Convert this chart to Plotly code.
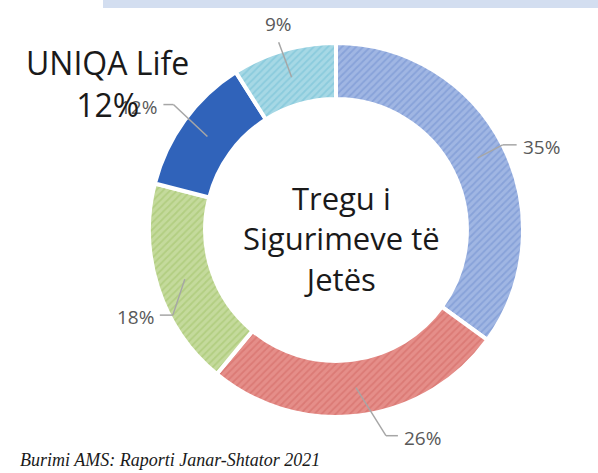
import math
import plotly.graph_objects as go

# ---- data ----
categories = ["Shoqëria A", "Shoqëria B", "Shoqëria C", "UNIQA Life", "Shoqëria D"]
values = [35, 26, 18, 12, 9]
value_labels = ["35%", "26%", "18%", "12%", "9%"]

center_title = "Tregu i<br>Sigurimeve të<br>Jetës"
callout_text = "UNIQA Life<br>12%"
source_text = "Burimi AMS: Raporti Janar-Shtator 2021"

# ---- styles / layout ----
W, H = 598, 473
CX, CY, R_OUT = 336, 230, 187
HOLE = 0.70
base_colors = ["#a0b6e3", "#e58e89", "#c4da9c", "#3063ba", "#a6d8e5"]
stripe_colors = ["#6f8ecf", "#d26662", "#a0c266", "#3063ba", "#70bed5"]
pattern_shapes = ["/", "/", "/", "", "/"]
# leader-line geometry relative to the slice mid-point (pixels)
elbow_offsets = [(25, -13), (30, 48), (-12, 36), (-34, -32), (-13, -35)]
arm_lengths = [14, 12, -13, -10, 0]
LABEL_COLOR = "#595959"
LINE_COLOR = "#a6a6a6"

def px(x):
    return x / W

def py(y):
    return 1 - y / H

fig = go.Figure()
fig.add_trace(go.Pie(
    labels=categories,
    values=values,
    hole=HOLE,
    sort=False,
    direction="clockwise",
    rotation=0,
    textinfo="none",
    hoverinfo="label+percent",
    showlegend=False,
    marker=dict(
        colors=base_colors,
        line=dict(color="white", width=4),
        pattern=dict(shape=pattern_shapes, fgcolor=stripe_colors,
                     size=5, solidity=0.35, fillmode="overlay"),
    ),
    domain=dict(x=[px(CX - R_OUT), px(CX + R_OUT)],
                y=[py(CY + R_OUT), py(CY - R_OUT)]),
))

shapes = []
annotations = []
total = sum(values)
cum = 0
r_mid = R_OUT * (1 + HOLE) / 2
for i, v in enumerate(values):
    a = math.radians((cum + v / 2) / total * 360)
    cum += v
    sx = CX + r_mid * math.sin(a)
    sy = CY - r_mid * math.cos(a)
    ex = sx + elbow_offsets[i][0]
    ey = sy + elbow_offsets[i][1]
    shapes.append(dict(type="line", xref="paper", yref="paper",
                       x0=px(sx), y0=py(sy), x1=px(ex), y1=py(ey),
                       line=dict(color=LINE_COLOR, width=1.5)))
    if arm_lengths[i] != 0:
        ax = ex + arm_lengths[i]
        shapes.append(dict(type="line", xref="paper", yref="paper",
                           x0=px(ex), y0=py(ey), x1=px(ax), y1=py(ey),
                           line=dict(color=LINE_COLOR, width=1.5)))
        side = 1 if arm_lengths[i] > 0 else -1
        annotations.append(dict(
            x=px(ax + side * 4), y=py(ey + 2), xref="paper", yref="paper",
            text=value_labels[i], showarrow=False,
            xanchor="left" if side > 0 else "right", yanchor="middle",
            font=dict(family="Open Sans", size=19, color=LABEL_COLOR)))
    else:
        annotations.append(dict(
            x=px(ex), y=py(ey - 3), xref="paper", yref="paper",
            text=value_labels[i], showarrow=False,
            xanchor="center", yanchor="bottom",
            font=dict(family="Open Sans", size=19, color=LABEL_COLOR)))

# top decorative band
shapes.append(dict(type="rect", xref="paper", yref="paper",
                   x0=px(103), x1=1, y0=py(8), y1=1,
                   fillcolor="#d3def0", line=dict(width=0), layer="below"))

annotations.append(dict(
    x=px(342), y=py(239), xref="paper", yref="paper",
    text=center_title, showarrow=False, xanchor="center", yanchor="middle",
    font=dict(family="Open Sans", size=31, color="#1a1a1a")))
annotations.append(dict(
    x=px(107), y=py(83), xref="paper", yref="paper",
    text=callout_text, showarrow=False, xanchor="center", yanchor="middle",
    font=dict(family="Open Sans", size=32, color="#1a1a1a")))
annotations.append(dict(
    x=px(18), y=py(460), xref="paper", yref="paper",
    text="<i>" + source_text + "</i>", showarrow=False,
    xanchor="left", yanchor="middle",
    font=dict(family="Liberation Serif", size=18, color="#1a1a1a")))

fig.update_layout(
    width=W, height=H,
    margin=dict(l=0, r=0, t=0, b=0),
    paper_bgcolor="white", plot_bgcolor="white",
    shapes=shapes, annotations=annotations,
)
fig.write_html("out.html",
               config={"displayModeBar": False},
               post_script="document.body.style.margin='0';document.body.style.overflow='hidden';")
